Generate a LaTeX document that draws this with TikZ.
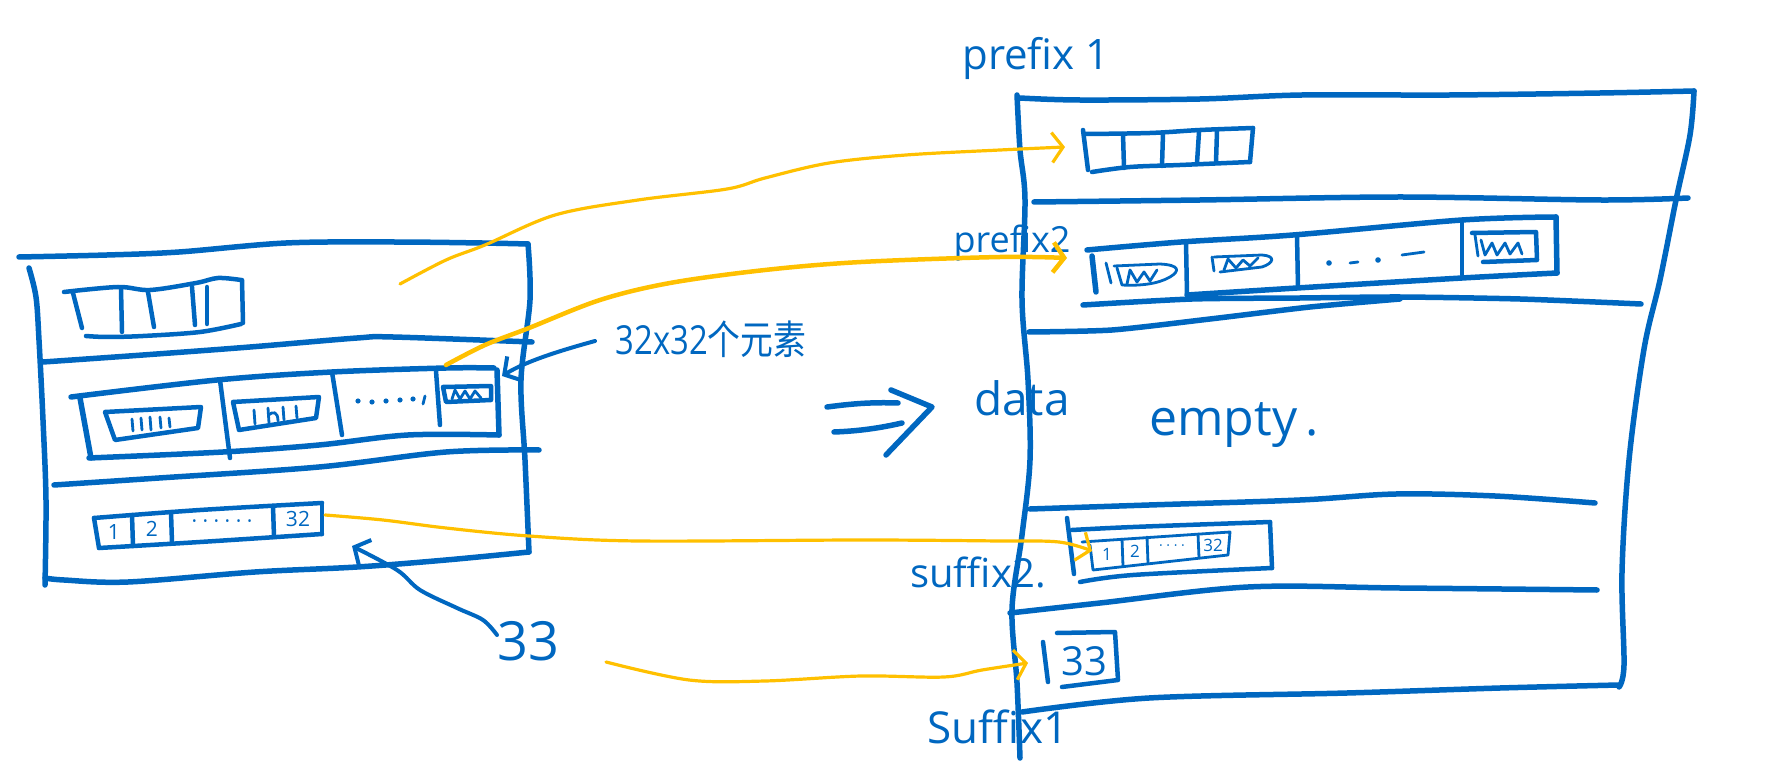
\documentclass[tikz,border=0pt]{standalone}
\usepackage{fontspec}
\setmainfont{Open Sans}
\newfontfamily\cjk{Noto Sans CJK SC}
\usetikzlibrary{arrows.meta}
\definecolor{inkblue}{RGB}{0,103,192}
\definecolor{inkyellow}{RGB}{255,192,0}
\begin{document}
\begin{tikzpicture}[x=1pt,y=-1pt, line cap=round, line join=round,
  ink/.style={draw=inkblue, line width=5.5pt},
  inkm/.style={draw=inkblue, line width=4.5pt},
  inks/.style={draw=inkblue, line width=2.8pt},
  hl/.style={draw=inkyellow, line width=4.5pt},
  hlt/.style={draw=inkyellow, line width=3.2pt},
  lbl/.style={text=inkblue, inner sep=0pt, anchor=center},
  ybarb/.style={-{Straight Barb[length=11pt,width=30pt]}},
  bbarb/.style={-{Straight Barb[length=12pt,width=28pt]}},
  sm/.style={smooth, tension=0.55}]
\useasboundingbox (0,0) rectangle (1777,783);

% ================= LEFT BLOCK =================
% outer frame
\draw[ink] plot[sm] coordinates {(19,257) (107,255) (179,252) (286,243) (393,242) (482,243) (528,244)};
\draw[ink] plot[sm] coordinates {(528,244) (530,300) (521,380) (525,460) (529,552)};
\draw[ink] plot[sm] coordinates {(29,268) (36,297) (39,340) (43,420) (46,500) (45,585)};
\draw[ink] plot[sm] coordinates {(45,578) (64,580) (128,582) (255,572) (357,567) (446,560) (529,552)};
% top array (prefix 1)
\draw[inkm] plot[sm] coordinates {(64,292) (118,287) (150,290) (196,283) (218,278) (241,280)};
\draw[inkm] (242,280) -- (243,323);
\draw[inkm] plot[sm] coordinates {(241,324) (200,332) (143,336) (107,337) (86,336)};
\draw[inkm] (73,293) -- (82,328);
\draw[inkm] (121,289) -- (122,332);
\draw[inkm] (148,292) -- (154,327);
\draw[inkm] (192,287) -- (195,325);
\draw[inkm] (207,287) -- (207,324);
% divider 1
\draw[ink] plot[sm] coordinates {(43,362) (143,355) (250,347) (357,338) (393,337) (532,342)};
% middle box (prefix 2)
\draw[ink] plot[sm] coordinates {(71,397) (217,380) (332,372) (446,368) (494,368)};
\draw[ink] (497,370) -- (499,435);
\draw[ink] plot[sm] coordinates {(499,435) (408,435) (319,445) (223,452) (89,458)};
\draw[ink] (80,398) -- (91,458);
\draw[inkm] (220,380) -- (230,458);
\draw[inkm] (332,372) -- (342,435);
\draw[inkm] (436,371) -- (440,425);
% cell 1
\draw[inkm] (105,412) -- (201,407) -- (198,428) -- (115,440) -- cycle;
\foreach \xx/\a/\b in {132/419/431, 141/418/430, 150/417/430, 160/417/428, 169/418/427}
  \draw[inks] (\xx,\a) -- (\xx+1,\b);
% cell 2
\draw[inkm] (233,402) -- (319,397) -- (316,418) -- (239,430) -- cycle;
\foreach \xx/\a/\b in {254/410/424, 268/408/423, 283/407/420, 296/406/418}
  \draw[inks] (\xx,\a) -- (\xx+1,\b);
\draw[inks] (268,416) .. controls (273,410) and (278,412) .. (278,421);
% cell 3 dots
\foreach \xx/\yy in {358/401, 372/402, 386/401, 400/400, 413/399}
  \fill[inkblue] (\xx,\yy) circle (2.6pt);
\draw[inks] (425,396) -- (423,404);
% cell 4
\draw[inkm] (443,387) -- (491,386) -- (491,400) -- (446,402) -- cycle;
\draw[inks] (452,399) -- (455,390) -- (460,399) -- (465,391) -- (470,399) -- (475,391) -- (481,398);
% divider 2
\draw[ink] plot[sm] coordinates {(54,485) (159,478) (319,467) (446,452) (539,450)};
% bottom array (suffix 2)
\draw[inkm] plot[sm] coordinates {(94,518) (200,510) (322,503)};
\draw[inkm] (322,503) -- (322,534);
\draw[inkm] plot[sm] coordinates {(322,534) (200,542) (99,548)};
\draw[inkm] (94,518) -- (99,548);
\draw[inkm] (132,515) -- (133,546);
\draw[inkm] (171,512) -- (172,543);
\draw[inkm] (273,506) -- (274,537);
\node[lbl, font=\fontsize{21}{21}\selectfont] (lc1) at (114,532) {1};
\node[lbl, font=\fontsize{21}{21}\selectfont] (lc2) at (152,529) {2};
\node[lbl, font=\fontsize{21}{21}\selectfont] (lc3) at (222,524) {· · · · · ·};
\node[lbl, font=\fontsize{21}{21}\selectfont] (lc4) at (298,519) {32};

% annotation 32x32
\node[lbl, font=\fontsize{40}{40}\selectfont] (cnt) at (711,339) {\scalebox{0.82}[1]{32x32{\cjk 个元素}}};
\coordinate (cntTip) at (502,376);
\draw[ink, line width=4pt, bbarb] (595,341) .. controls (555,352) and (525,362) .. (cntTip);

% annotation 33
\node[lbl, font=\fontsize{54}{54}\selectfont] (n33) at (528,641) {33};
\coordinate (n33Tip) at (352,546);
\draw[ink, line width=4pt, bbarb] plot[sm] coordinates {(497,635) (483,620) (457,608) (420,590) (397,570) (n33Tip)};

% implies arrow
\draw[ink] (827,407) .. controls (850,404) and (870,402) .. (898,403);
\draw[ink] (834,432) .. controls (860,431) and (880,428) .. (902,423);
\draw[ink] (891,390) -- (932,407) -- (886,455);

% ================= RIGHT BLOCK =================
\draw[ink] plot[sm] coordinates {(1017,95) (1020,150) (1025,200) (1022,300) (1028,380) (1030,460) (1022,535) (1012,609) (1017,683) (1020,758)};
\draw[ink] plot[sm] coordinates {(1020,98) (1079,100) (1200,99) (1302,95) (1450,95) (1600,93) (1694,91)};
\draw[ink] plot[sm] coordinates {(1694,91) (1690,135) (1676,200) (1660,280) (1644,349) (1629,460) (1622,572) (1624,665) (1619,687)};
\draw[ink] plot[sm] coordinates {(1619,685) (1500,688) (1347,693) (1149,698) (1022,712)};
% top array
\draw[inkm] (1083,130) -- (1088,170);
\draw[inkm] plot[sm] coordinates {(1085,134) (1150,133) (1200,130) (1253,128)};
\draw[inkm] (1253,128) -- (1250,162);
\draw[inkm] plot[sm] coordinates {(1250,162) (1180,165) (1130,167) (1092,172)};
\draw[inkm] (1123,134) -- (1124,168);
\draw[inkm] (1163,133) -- (1162,166);
\draw[inkm] (1199,132) -- (1197,163);
\draw[inkm] (1217,131) -- (1216,162);
% divider A
\draw[ink] plot[sm] coordinates {(1034,202) (1200,200) (1400,197) (1600,200) (1688,198)};
% middle array
\draw[ink] plot[sm] coordinates {(1087,250) (1181,242) (1293,235) (1462,220) (1556,217)};
\draw[ink] (1556,217) -- (1557,273);
\draw[ink] plot[sm] coordinates {(1557,273) (1462,278) (1297,288) (1187,295)};
\draw[ink] (1092,256) -- (1096,292);
\draw[inkm] (1186,242) -- (1187,295);
\draw[inkm] (1297,235) -- (1298,288);
\draw[inkm] (1462,221) -- (1462,275);
% cell 1
\draw[inks] (1106,263) -- (1111,283);
\draw[inks] (1114,266) -- (1160,264) .. controls (1180,265) and (1180,271) .. (1170,277) .. controls (1158,284) and (1140,286) .. (1122,285) -- (1117,268);
\draw[inks] (1127,284) -- (1130,270) -- (1137,282) -- (1144,272) -- (1150,281) -- (1157,270);
% cell 2
\draw[inks] (1212,257) -- (1214,271);
\draw[inks] (1214,257) -- (1262,255) .. controls (1276,256) and (1274,263) .. (1262,267) -- (1220,272);
\draw[inks] (1224,270) -- (1228,259) -- (1236,268) -- (1243,260) -- (1250,266) -- (1258,258);
% cell 3
\fill[inkblue] (1329,263) circle (2.8pt);
\draw[inks] (1350,263) -- (1358,262);
\fill[inkblue] (1378,260) circle (2.8pt);
\draw[inks] (1402,255) -- (1424,252);
% cell 4
\draw[inkm] (1472,233) -- (1536,232) -- (1537,260) -- (1483,262);
\draw[inks] (1475,235) -- (1478,256);
\draw[inks] (1481,240) -- (1485,255) -- (1492,243) -- (1497,255) -- (1505,243) -- (1510,254) -- (1518,243) -- (1522,254);
% lines B and C
\draw[ink] plot[smooth, tension=0.4] coordinates {(1083,305) (1192,299) (1300,298) (1400,297) (1520,299) (1641,304)};
\draw[ink] plot[smooth, tension=0.4] coordinates {(1029,332) (1112,330) (1210,319) (1310,307) (1400,299)};
% divider D
\draw[ink] plot[sm] coordinates {(1030,509) (1149,505) (1300,500) (1396,494) (1495,496) (1595,503)};
% suffix 2 box
\draw[inkm] (1067,518) -- (1074,574);
\draw[inkm] plot[sm] coordinates {(1072,530) (1133,527) (1270,522)};
\draw[inkm] (1270,522) -- (1272,568);
\draw[inkm] plot[sm] coordinates {(1272,568) (1133,575) (1080,582)};
% inner array
\draw[inks] (1082,542) -- (1230,532) -- (1228,555) -- (1093,570) -- (1090,545);
\draw[inks] (1122,539) -- (1123,566);
\draw[inks] (1147,537) -- (1148,563);
\draw[inks] (1198,534) -- (1199,558);
\node[lbl, font=\fontsize{17}{17}\selectfont] (rc1) at (1107,554) {1};
\node[lbl, font=\fontsize{17}{17}\selectfont] (rc2) at (1135,551) {2};
\node[lbl, font=\fontsize{14}{14}\selectfont] (rc3) at (1172,548) {· · · ·};
\node[lbl, font=\fontsize{17}{17}\selectfont] (rc4) at (1213,545) {32};
% divider E
\draw[ink] plot[sm] coordinates {(1010,613) (1100,603) (1248,587) (1400,588) (1597,590)};
% 33 box
\draw[inkm] (1043,642) -- (1048,682);
\draw[inkm] (1057,633) -- (1115,632) -- (1118,680) -- (1062,687);
\node[lbl, font=\fontsize{40}{40}\selectfont] (r33) at (1084,661) {33};

% labels
\node[lbl, font=\fontsize{42}{42}\selectfont] (pfx1) at (1036,58) {prefix 1};
\node[lbl, font=\fontsize{36}{36}\selectfont] (pfx2) at (1012,243) {prefix2};
\node[lbl, font=\fontsize{46}{46}\selectfont] (data) at (1022,398) {data};
\node[lbl, font=\fontsize{50}{50}\selectfont] (empty) at (1234,425) {empty\,.};
\node[lbl, font=\fontsize{40}{40}\selectfont] (sfx2) at (978,572) {suffix2.};
\node[lbl, font=\fontsize{44}{44}\selectfont] (sfx1) at (998,727) {Suffix1};

% ================= YELLOW LINKS =================
\coordinate (y1s) at (400,284);
\coordinate (y1e) at (1065,147);
\draw[hlt, ybarb] plot[sm] coordinates {(y1s) (446,260) (485,245) (555,215) (638,200) (727,189) (765,178) (829,163) (906,155) (1000,150) (y1e)};
\coordinate (y2s) at (446,365);
\coordinate (y2e) at (1067,258);
\draw[hl, ybarb] plot[sm] coordinates {(y2s) (485,345) (529,328) (600,300) (670,283) (765,270) (861,262) (1000,257) (y2e)};
\coordinate (y3s) at (325,515);
\coordinate (y3e) at (1092,551);
\draw[hlt, ybarb] plot[sm] coordinates {(y3s) (383,520) (446,528) (529,536) (638,541) (861,540) (1000,541) (1059,542) (y3e)};
\coordinate (y4s) at (606,662);
\coordinate (y4e) at (1028,663);
\draw[hlt, ybarb] plot[sm] coordinates {(y4s) (689,680) (765,681) (861,676) (944,677) (982,670) (y4e)};
\end{tikzpicture}
\end{document}
